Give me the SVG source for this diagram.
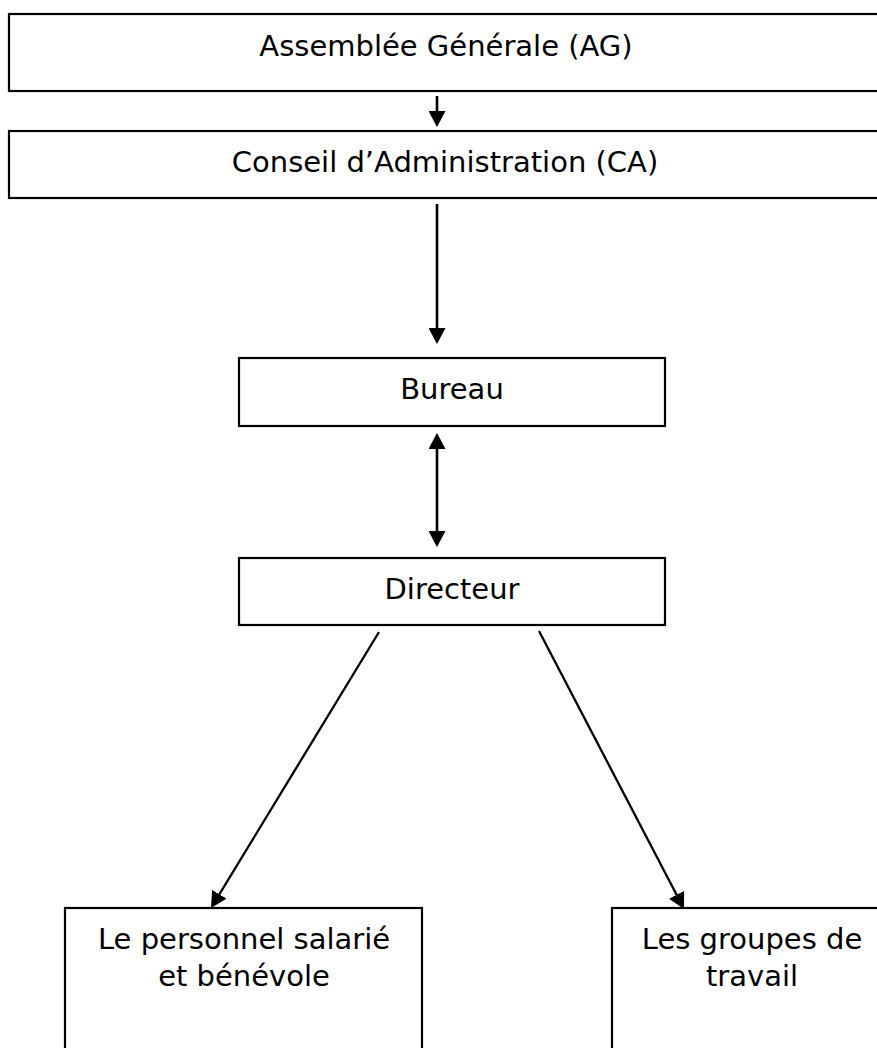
<svg xmlns="http://www.w3.org/2000/svg" width="877" height="1048" viewBox="0 0 877 1048">
<style>
.box{fill:#fff;stroke:#000;stroke-width:2.2}
.lbl{font-family:"DejaVu Sans",Verdana,sans-serif;font-size:29px;fill:#000;text-anchor:middle}
.con{fill:none;stroke:#000;stroke-width:2.6}
.diag{fill:none;stroke:#000;stroke-width:2.3}
</style>
<defs>
<marker id="ah" markerUnits="userSpaceOnUse" markerWidth="16" markerHeight="17" viewBox="0 0 16 17" refX="13" refY="8.5" orient="auto-start-reverse">
<path d="M0,0 L16,8.5 L0,17 z" fill="#000"/>
</marker>
</defs>
<rect width="877" height="1048" fill="#fff"/>
<g id="connectors">
<line class="con" x1="437" y1="96" x2="437" y2="124" marker-end="url(#ah)"/>
<line class="con" x1="437" y1="204" x2="437" y2="341" marker-end="url(#ah)"/>
<line class="con" x1="437" y1="436" x2="437" y2="544" marker-start="url(#ah)" marker-end="url(#ah)"/>
<line class="diag" x1="379" y1="632" x2="212.6" y2="905.4" marker-end="url(#ah)"/>
<line class="diag" x1="539" y1="631" x2="682.6" y2="906.3" marker-end="url(#ah)"/>
</g>
<g id="node-ag">
<rect class="box" x="9" y="14" width="880" height="77"/>
<text class="lbl" x="446" y="56">Assemblée Générale (AG)</text>
</g>
<g id="node-ca">
<rect class="box" x="9" y="131" width="880" height="67"/>
<text class="lbl" x="445" y="172">Conseil d’Administration (CA)</text>
</g>
<g id="node-bureau">
<rect class="box" x="239" y="358" width="426" height="68"/>
<text class="lbl" x="452" y="399">Bureau</text>
</g>
<g id="node-directeur">
<rect class="box" x="239" y="558" width="426" height="67"/>
<text class="lbl" x="452" y="599">Directeur</text>
</g>
<g id="node-personnel">
<rect class="box" x="65" y="908" width="357" height="160"/>
<text class="lbl" x="244" y="949">Le personnel salarié</text>
<text class="lbl" x="244" y="986">et bénévole</text>
</g>
<g id="node-groupes">
<rect class="box" x="612" y="908" width="280" height="160"/>
<text class="lbl" x="752" y="949">Les groupes de</text>
<text class="lbl" x="752" y="986">travail</text>
</g>
</svg>
